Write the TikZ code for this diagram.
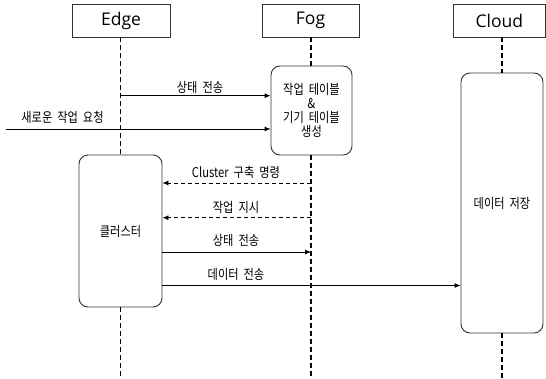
\documentclass[tikz,border=0pt]{standalone}
\usepackage{fontspec}
\setmainfont{Noto Sans CJK KR}[FakeStretch=0.83, WordSpace=2]
\newfontfamily\hdfont{Open Sans}
\usetikzlibrary{arrows.meta}
\definecolor{ln}{HTML}{333333}
\tikzset{
  head/.style={draw=ln, line width=0.9pt, minimum height=33pt, inner sep=0pt, font=\hdfont\fontsize{17.5}{20}\selectfont},
  act/.style={draw=ln, line width=0.9pt, rounded corners=9pt, inner sep=0pt, align=center, font=\fontsize{13.5}{14}\selectfont},
  life/.style={draw=black, line width=1.3pt, dash pattern=on 5pt off 3pt},
  arr/.style={draw=black, line width=0.9pt, -{Latex[length=6pt,width=5pt]}},
  darr/.style={arr, dash pattern=on 4pt off 3pt},
  lbl/.style={font=\fontsize{13.5}{15}\selectfont, inner sep=0pt}
}
\begin{document}
\begin{tikzpicture}[x=1pt,y=-1pt]
\useasboundingbox (0,0) rectangle (546,379);
% headers
\node[head, minimum width=98pt] (edgeH) at (121,20.5) {Edge};
\node[head, minimum width=97pt] (fogH) at (310.5,20.5) {Fog};
\node[head, minimum width=92pt] (cloudH) at (499.3,20.5) {Cloud};
% activation boxes
\node[act, minimum width=81pt, minimum height=89pt] (fogA) at (311.5,110.5)
  {작업 테이블\\\&\\기기 테이블\\생성};
\node[act, minimum width=83pt, minimum height=152pt] (cluster) at (120.5,231) {클러스터};
\node[act, minimum width=82pt, minimum height=260pt] (cloudA) at (502,203) {데이터 저장};
% lifeline end points
\coordinate (edgeEnd) at (120.5,379);
\coordinate (fogEnd) at (311,379);
\coordinate (cloudEnd) at (502,379);
% lifelines
\draw[life] (edgeH.south -| edgeEnd) -- (cluster.north -| edgeEnd);
\draw[life] (cluster.south -| edgeEnd) -- (edgeEnd);
\draw[life] (fogH.south -| fogEnd) -- (fogA.north -| fogEnd);
\draw[life] (fogA.south -| fogEnd) -- (fogEnd);
\draw[life] (cloudH.south -| cloudEnd) -- (cloudA.north -| cloudEnd);
\draw[life] (cloudA.south -| cloudEnd) -- (cloudEnd);
% messages
\coordinate (m1) at (120.5,95.7);
\coordinate (m2) at (6,129);
\coordinate (m3) at (311,183);
\coordinate (m4) at (311,217.7);
\coordinate (m5) at (311,252);
\coordinate (m6) at (162,285.5);
\draw[arr] (m1) -- (m1 -| fogA.west);
\draw[arr] (m2) -- (m2 -| fogA.west);
\draw[darr] (m3) -- (m3 -| cluster.east);
\draw[darr] (m4) -- (m4 -| cluster.east);
\draw[arr] (m5 -| cluster.east) -- (m5);
\draw[arr] (m6 -| cluster.east) -- (m6 -| cloudA.west);
% labels
\node[lbl] (l1) at (200,87.5) {상태 전송};
\node[lbl] (l2) at (62.5,117.5) {새로운 작업 요청};
\node[lbl] (l3) at (236,172.5) {Cluster 구축 명령};
\node[lbl] (l4) at (236,207) {작업 지시};
\node[lbl] (l5) at (236,240.5) {상태 전송};
\node[lbl] (l6) at (236,274) {데이터 전송};
\end{tikzpicture}
\end{document}
